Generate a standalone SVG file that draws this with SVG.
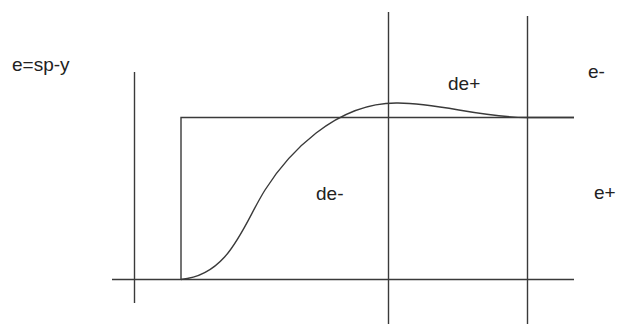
<svg xmlns="http://www.w3.org/2000/svg" width="617" height="324" viewBox="0 0 617 324">
<style>
.ln{stroke:#3a3a3a;stroke-width:1.4;fill:none}
.t{font-family:"Liberation Sans",Arial,sans-serif;font-size:19px;fill:#222}
</style>
<rect width="617" height="324" fill="#fff"/>
<g id="axes">
<line class="ln" x1="134.5" y1="72" x2="134.5" y2="303"/>
<line class="ln" x1="112" y1="279.5" x2="574" y2="279.5"/>
<line class="ln" x1="388.5" y1="12" x2="388.5" y2="324"/>
<line class="ln" x1="527.5" y1="16" x2="527.5" y2="324"/>
</g>
<g id="setpoint">
<polyline class="ln" points="181,279.5 181,117.5 574,117.5"/>
</g>
<g id="response">
<path class="ln" d="M181,279.5 C230,275 243,225 265,190 S335,102 398,103 C440,103 480,117.5 527,117.5 L574,117.5"/>
</g>
<g id="labels">
<text class="t" x="12" y="71">e=sp-y</text>
<text class="t" x="316" y="200">de-</text>
<text class="t" x="448" y="90">de+</text>
<text class="t" x="588" y="78">e-</text>
<text class="t" x="594" y="199">e+</text>
</g>
</svg>
